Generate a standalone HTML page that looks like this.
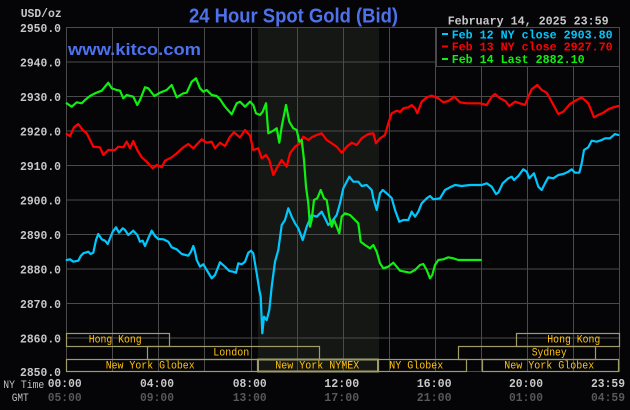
<!DOCTYPE html>
<html><head><meta charset="utf-8"><style>
html,body{margin:0;padding:0;background:#050508;}
svg{display:block;}
.m{font-family:"Liberation Mono",monospace;font-weight:bold;}
.r{font-family:"Liberation Mono",monospace;}
.s{font-family:"Liberation Sans",sans-serif;font-weight:bold;}
</style></head><body>
<svg width="630" height="410" viewBox="0 0 630 410" xmlns="http://www.w3.org/2000/svg">
<rect x="0" y="0" width="630" height="410" fill="#050508"/>
<rect x="258" y="27" width="121" height="345" fill="#151714"/>
<g stroke="#4a4a4a" stroke-width="1" fill="none">
<path d="M66.5 27.5H619.5M66.5 62H619.5M66.5 96.5H619.5M66.5 131H619.5M66.5 165.5H619.5M66.5 200H619.5M66.5 234.5H619.5M66.5 269H619.5M66.5 303.5H619.5M66.5 338H619.5M66.5 371.5H619.5"/>
<path d="M66.5 27V372M112.5 27V372M158.5 27V372M204.5 27V372M251.5 27V372M297.5 27V372M343.5 27V372M389.5 27V372M435.5 27V372M481.5 27V372M527.5 27V372M573.5 27V372M619.5 27V372"/>
</g>
<!-- session boxes -->
<g stroke="#a09c68" stroke-width="1.2" fill="none">
<rect x="66.5" y="333.5" width="103" height="13"/>
<rect x="147.5" y="346.5" width="172" height="13"/>
<rect x="66.5" y="359.5" width="191" height="12"/>
<rect x="258" y="359.5" width="120" height="12" stroke-width="2"/>
<rect x="378.5" y="359.5" width="88" height="12"/>
<rect x="482.5" y="359.5" width="136" height="12"/>
<rect x="458.5" y="346.5" width="137" height="13"/>
<rect x="516.5" y="333.5" width="103" height="13"/>
</g>
<g class="r" font-size="11" fill="#ffc20e">
<text x="88.7" y="342.5" textLength="53" lengthAdjust="spacingAndGlyphs">Hong Kong</text>
<text x="213.3" y="355.5" textLength="36" lengthAdjust="spacingAndGlyphs">London</text>
<text x="105.7" y="368.5" textLength="89" lengthAdjust="spacingAndGlyphs">New York Globex</text>
<text x="275.3" y="368.5" textLength="84" lengthAdjust="spacingAndGlyphs">New York NYMEX</text>
<text x="389.3" y="368.5" textLength="54" lengthAdjust="spacingAndGlyphs">NY Globex</text>
<text x="504.3" y="368.5" textLength="90" lengthAdjust="spacingAndGlyphs">New York Globex</text>
<text x="531.7" y="355.5" textLength="35" lengthAdjust="spacingAndGlyphs">Sydney</text>
<text x="547.3" y="342.5" textLength="53" lengthAdjust="spacingAndGlyphs">Hong Kong</text>
</g>
<!-- series -->
<g fill="none" stroke-width="2.2" stroke-linejoin="round" stroke-linecap="round">
<polyline stroke="#ff0000" points="66.7,134 70,136 74,127.3 78.3,124 82.7,130 86.7,133.3 90,140 93.3,146.7 100,147.3 103.3,155 108.3,150 115,150 118.3,146.7 123.3,147.3 126.7,141.7 130,148.3 133.3,141 137.3,150 141.7,157.3 146.7,161.7 152.7,168.3 156.7,165 161.7,167.3 165,160.7 171.7,157.3 176.7,153.3 183.3,147.3 188.3,144 193.3,148.3 201.7,139.3 206.7,142.7 211.7,141.7 215,148.3 220,142.7 225,146 230,136.7 234,132.3 240,137.5 245,130 250,135.5 253.3,150 258.3,148.3 261.7,158.3 266,155 269.3,160 273.3,175 276.7,168.3 281.7,160 286.7,166.7 290,153.3 295,146.7 300,143.3 303.3,136.7 308.3,140 311.7,137.3 316.7,135 321.7,133.3 326.7,140 331.7,143.3 336.7,146.7 341.7,152.7 346.7,146.7 351.7,142.7 356.7,145 361.7,138.3 368.3,134 373.3,133.3 376,143.3 380,138.3 385,135 388.3,123.3 391.7,113.3 396.7,110.7 400,112 403.3,108.3 408.3,107.3 411.7,105 415,108.3 417.3,113.3 421.7,101.7 426.7,97.3 431.7,95.7 438.3,98.3 443.3,102.3 448.3,101 454.3,96.7 460,102.3 466.7,103.3 480,103.3 486.7,105 491.7,96.7 495,94 500,98.3 505,100.7 509.3,106 515,101.7 520,103.3 525,105 528.3,96.7 531.7,89.3 537.3,85 541.7,90 546.7,92.7 551.7,101.7 558.3,114 563.3,111.7 570,104 576.7,100 581.7,97.3 588.3,103.3 594,117.3 598.3,115 603.3,112.7 608.3,109.3 613.3,107.3 618.3,106"/>
<polyline stroke="#00c8ff" points="66.7,260 70,259.3 73.3,261.7 78.3,260.7 80.7,256 83.3,253.3 88.3,251.7 90.7,254 93.3,252.7 96,240 98.3,234 101.7,239.3 105,240.7 107.7,244 110,238.3 112.7,231.7 116,227.3 119,232.7 122.7,228.3 125,230 128.3,235 133.3,230.7 137.3,235 140,241.7 142.7,240.7 145,246 148.3,238.3 151.7,230.7 155,236 158.3,239 163.3,239.3 168.3,241.7 171.7,247.3 176.7,249.3 181.7,254 188.3,255.7 191,251.7 193.3,246 195,251.7 196.7,260 200,266.7 203.3,264.3 206.7,270 211.7,278.3 215,275 220,262.3 225,266.7 229.3,271 233.3,271.7 236,272.7 238.3,263.3 241.7,264.3 245,261.7 248.3,252.7 251,250.7 253.3,253.3 256.7,273.3 259.3,290 260.7,296.7 262.3,333.3 264,316.7 266.7,320 269.3,310 271.7,286.7 275,261.7 278.3,250 281.7,225 285,220 288.3,208.3 291.7,216.7 295,223.3 298.3,228.3 302.7,240 306.7,226.7 311.7,215 316.7,216.7 321.7,211.7 325,218.3 328.3,225 331.7,221.7 336.7,215 340,203.3 343.3,188.3 346.7,181.7 349.3,176.7 353.3,181.7 358.3,181.7 361.7,186 366.7,185 371.7,190 373.3,198.3 376.7,210 380,193.3 382.7,190 386.7,193.3 391.7,198 395,210 399.3,221.7 403.3,220 408.3,220 411.7,211.7 415,216.7 418.3,211.7 421.7,203.3 426.7,198.3 430,196 433.3,199.3 440,198.3 445,190 450,187.3 455,185 461.7,186 470,185 481.7,185 486.7,183.3 491.7,186.7 496,194 498.3,192.7 502.7,183.3 508.3,178.3 511.7,176.7 514,180 518.3,176 523.3,169.3 526.7,171.7 529.3,178.3 534,173.3 538.3,186.7 541.7,190 545,183.3 548.3,177.3 553.3,178.3 558.3,175 563.3,174 568.3,171.7 571.7,169.3 575,172.7 579.3,172.7 581.7,163.3 584,150 588.3,147.3 591.7,140.7 596.7,141.7 601.7,140 605,138.3 610,138.3 615,134 618.3,135"/>
<polyline stroke="#10f010" points="66.7,103.3 71.7,106.7 76.7,102.3 81.7,103.3 85,100 90,96 95,93.3 101.7,90.7 108.3,82.7 111.7,88.3 116.7,90 120,90.7 123.3,98.3 126.7,95 133.3,96.7 137.3,105 140,100 145,87.3 148.3,88.3 154.3,96 160,92.7 166.7,90 171.7,85 176.7,97.3 183.3,93.3 186.7,92.7 191.7,81.7 196,78.3 200,88.3 203.3,91.7 206.7,90 211.7,95 216.7,96 220,99.3 225,106.7 231.7,114.3 236.7,103.3 240,101.7 245,106.7 250,101.7 253.3,105 256,113.3 260,115 262.7,111.7 266,103.3 268.3,133.3 273.3,130.7 276.7,128.3 279.3,142.7 281.7,126.7 286,105 289.3,121.7 293.3,128.3 296.7,130 299.3,141.7 301.7,140 304,160 306,186.7 308.3,203.3 310,226.7 311.7,220 314,200 317.3,198.3 320.7,190 324,198.3 326.7,200 329.3,216.7 331.7,226.7 334,220 336.7,226.7 339.3,233.3 341.7,216.7 345,213.3 350,215 355,220 358.3,223.3 360.7,241.7 365,245 370,248.3 373.3,245 376.7,251.7 380,263.3 383.3,268.3 388.3,266.7 393.3,262.7 396.7,266.7 400,270.7 405,271.7 410,272.7 415,270 420,265 423.3,264 426.7,270 430,278.3 432.3,275 435,265 438.3,260 443.3,259.3 448.3,257.3 453.3,258.3 458.3,260 480.7,260"/>
</g>
<!-- legend -->
<rect x="436.5" y="27.5" width="183" height="39" fill="#050508" stroke="#4a4a4a" stroke-width="1"/>
<rect x="442" y="33" width="6" height="2" fill="#00c8ff"/>
<rect x="442" y="45.5" width="6" height="2" fill="#ff0000"/>
<rect x="442" y="58" width="6" height="2" fill="#10f010"/>
<g class="m" font-size="12">
<text x="451.7" y="38.3" fill="#00c8ff" textLength="161" lengthAdjust="spacingAndGlyphs">Feb 12 NY close 2903.80</text>
<text x="451.7" y="50.5" fill="#ff0000" textLength="161" lengthAdjust="spacingAndGlyphs">Feb 13 NY close 2927.70</text>
<text x="451.7" y="63" fill="#10f010" textLength="133" lengthAdjust="spacingAndGlyphs">Feb 14 Last 2882.10</text>
</g>
<!-- titles -->
<text class="s" x="189" y="22.7" font-size="20" fill="#4d72ec" textLength="209" lengthAdjust="spacingAndGlyphs">24 Hour Spot Gold (Bid)</text>
<text class="s" x="68" y="55" font-size="17" fill="#4d72ec" textLength="133" lengthAdjust="spacingAndGlyphs">www.kitco.com</text>
<text class="m" x="447.7" y="24.5" font-size="12" fill="#c8c8c8" textLength="161" lengthAdjust="spacingAndGlyphs">February 14, 2025 23:59</text>
<text class="m" x="20.7" y="17" font-size="12" fill="#c8c8c8" textLength="41" lengthAdjust="spacingAndGlyphs">USD/oz</text>
<!-- y labels -->
<g class="m" font-size="12" fill="#c8c8c8">
<text x="20" y="31.8" textLength="41" lengthAdjust="spacingAndGlyphs">2950.0</text>
<text x="20" y="66.3" textLength="41" lengthAdjust="spacingAndGlyphs">2940.0</text>
<text x="20" y="100.8" textLength="41" lengthAdjust="spacingAndGlyphs">2930.0</text>
<text x="20" y="135.3" textLength="41" lengthAdjust="spacingAndGlyphs">2920.0</text>
<text x="20" y="169.8" textLength="41" lengthAdjust="spacingAndGlyphs">2910.0</text>
<text x="20" y="204.3" textLength="41" lengthAdjust="spacingAndGlyphs">2900.0</text>
<text x="20" y="238.8" textLength="41" lengthAdjust="spacingAndGlyphs">2890.0</text>
<text x="20" y="273.3" textLength="41" lengthAdjust="spacingAndGlyphs">2880.0</text>
<text x="20" y="307.8" textLength="41" lengthAdjust="spacingAndGlyphs">2870.0</text>
<text x="20" y="342.3" textLength="41" lengthAdjust="spacingAndGlyphs">2860.0</text>
<text x="20" y="375.8" textLength="41" lengthAdjust="spacingAndGlyphs">2850.0</text>
</g>
<!-- x labels -->
<text class="r" x="3.3" y="388" font-size="11" fill="#c0c0c0" textLength="41" lengthAdjust="spacingAndGlyphs">NY Time</text>
<text class="r" x="11.7" y="401" font-size="11" fill="#c0c0c0" textLength="17" lengthAdjust="spacingAndGlyphs">GMT</text>
<g class="m" font-size="12" fill="#c8c8c8">
<text x="47.7" y="387" textLength="34" lengthAdjust="spacingAndGlyphs">00:00</text>
<text x="140" y="387" textLength="34" lengthAdjust="spacingAndGlyphs">04:00</text>
<text x="232.7" y="387" textLength="34" lengthAdjust="spacingAndGlyphs">08:00</text>
<text x="324.3" y="387" textLength="35" lengthAdjust="spacingAndGlyphs">12:00</text>
<text x="416.7" y="387" textLength="35" lengthAdjust="spacingAndGlyphs">16:00</text>
<text x="509" y="387" textLength="34" lengthAdjust="spacingAndGlyphs">20:00</text>
<text x="591" y="387" textLength="34" lengthAdjust="spacingAndGlyphs">23:59</text>
</g>
<g class="m" font-size="12" fill="#585858">
<text x="47.7" y="401" textLength="34" lengthAdjust="spacingAndGlyphs">05:00</text>
<text x="140" y="401" textLength="34" lengthAdjust="spacingAndGlyphs">09:00</text>
<text x="232.7" y="401" textLength="34" lengthAdjust="spacingAndGlyphs">13:00</text>
<text x="324.3" y="401" textLength="35" lengthAdjust="spacingAndGlyphs">17:00</text>
<text x="416.7" y="401" textLength="35" lengthAdjust="spacingAndGlyphs">21:00</text>
<text x="509" y="401" textLength="34" lengthAdjust="spacingAndGlyphs">01:00</text>
<text x="591" y="401" textLength="34" lengthAdjust="spacingAndGlyphs">04:59</text>
</g>
</svg>
</body></html>
